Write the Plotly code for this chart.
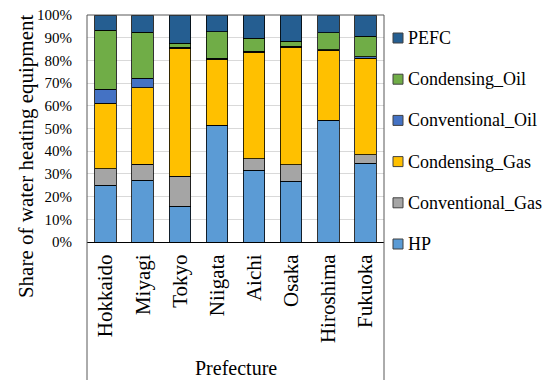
import plotly.graph_objects as go

prefectures = ["Hokkaido", "Miyagi", "Tokyo", "Niigata", "Aichi", "Osaka", "Hiroshima", "Fukuoka"]

hp = [25.0, 27.2, 15.7, 51.2, 31.6, 26.7, 53.4, 34.7]
conventional_gas = [7.2, 7.0, 13.2, 0.3, 5.0, 7.4, 0.2, 3.8]
condensing_gas = [29.0, 33.8, 56.4, 29.1, 47.1, 51.8, 30.8, 42.5]
conventional_oil = [6.2, 4.1, 0.5, 0.3, 0.4, 0.4, 0.2, 0.6]
condensing_oil = [26.0, 20.3, 1.7, 11.8, 5.6, 2.2, 7.5, 9.0]
pefc = [6.6, 7.6, 12.5, 7.3, 10.3, 11.5, 7.9, 9.4]

y_ticks = [0, 10, 20, 30, 40, 50, 60, 70, 80, 90, 100]
y_tick_labels = [f"{v}%" for v in y_ticks]

series_names = ["HP", "Conventional_Gas", "Condensing_Gas", "Conventional_Oil", "Condensing_Oil", "PEFC"]
series_values = [hp, conventional_gas, condensing_gas, conventional_oil, condensing_oil, pefc]
series_colors = ["#5B9BD5", "#A5A5A5", "#FFC000", "#4472C4", "#70AD47", "#255E91"]

FONT = "Liberation Serif"

# Figure size accounts for the page's default 8px body margin
W, H = 544, 372
ML, MR, MT, MB = 79, 168, 7, 138
PW, PH = W - ML - MR, H - MT - MB

fig = go.Figure()
for name, vals, color in zip(series_names, series_values, series_colors):
    fig.add_trace(go.Bar(
        x=prefectures, y=vals, name=name, showlegend=False,
        marker=dict(color=color, line=dict(color="black", width=0.8)),
    ))

fig.update_layout(
    width=W, height=H,
    barmode="stack", bargap=0.42,
    margin=dict(l=ML, r=MR, t=MT, b=MB, autoexpand=False),
    paper_bgcolor="white", plot_bgcolor="white",
    font=dict(family=FONT, color="black"),
    yaxis=dict(
        range=[0, 100.01], tickmode="array", tickvals=y_ticks, ticktext=y_tick_labels,
        tickfont=dict(family=FONT, size=15, color="black"),
        showgrid=True, gridcolor="#D9D9D9", gridwidth=1,
        zeroline=False, showline=False, ticks="", ticklabelstandoff=14,
        ticklabeloverflow="allow",
    ),
    xaxis=dict(
        tickangle=-90, tickfont=dict(family=FONT, size=21, color="black"),
        showline=True, linecolor="black", linewidth=1, ticks="",
        ticklabelstandoff=3,
    ),
)

# Frame around plot area and category label area
frame = "#595959"
for x in (0, 1):
    fig.add_shape(type="line", xref="paper", yref="paper", x0=x, x1=x, y0=1, y1=-0.62,
                  line=dict(color=frame, width=1))
fig.add_shape(type="line", xref="paper", yref="paper", x0=0, x1=1, y0=1, y1=1,
              line=dict(color=frame, width=1))

# Legend (top to bottom: reverse stacking order)
sym_x = (390 - ML) / PW
txt_x = (398 - ML) / PW
for k, idx in enumerate(range(len(series_names) - 1, -1, -1)):
    ypx = 30 + 41.2 * k
    yp = (MT + PH - ypx) / PH
    fig.add_shape(type="rect", xref="paper", yref="paper",
                  xsizemode="pixel", ysizemode="pixel",
                  xanchor=sym_x, yanchor=yp, x0=-5, x1=5, y0=-5, y1=5,
                  fillcolor=series_colors[idx], line=dict(color="#404040", width=1))
    fig.add_annotation(text=series_names[idx], xref="paper", yref="paper",
                       x=txt_x, y=yp, xanchor="left", yanchor="middle",
                       showarrow=False, font=dict(family=FONT, size=18, color="black"))

fig.add_annotation(text="Share of water heating equipment", xref="paper", yref="paper",
                   x=-0.205, y=0.379, xanchor="center", yanchor="middle",
                   textangle=-90, showarrow=False,
                   font=dict(family=FONT, size=21, color="black"))
fig.add_annotation(text="Prefecture", xref="paper", yref="paper",
                   x=0.5, y=(MT + PH - 360) / PH, xanchor="center", yanchor="middle",
                   showarrow=False, font=dict(family=FONT, size=20, color="black"))

fig.write_html("out.html")
